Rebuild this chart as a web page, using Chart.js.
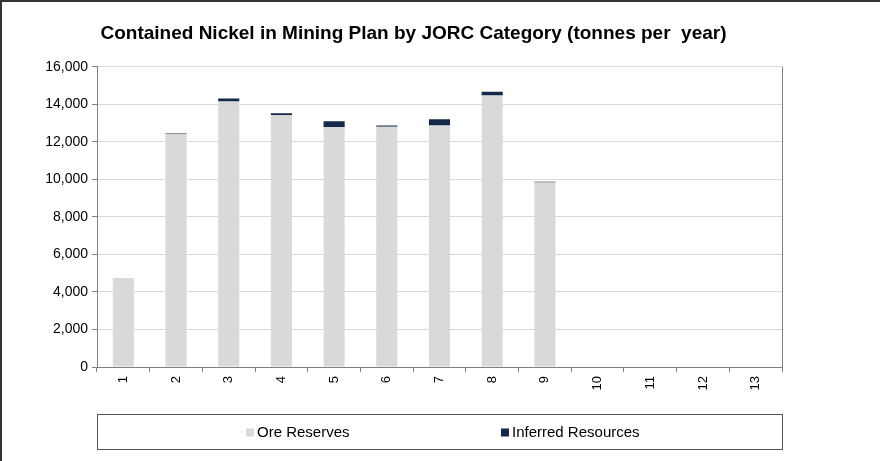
<!DOCTYPE html>
<html>
<head>
<meta charset="utf-8">
<script src="https://cdn.jsdelivr.net/npm/chart.js@4/dist/chart.umd.min.js"></script>
<style>
  html, body { margin: 0; padding: 0; background: #fff; }
</style>
</head>
<body>
<canvas id="nickelChart" width="880" height="461"></canvas>
<script>
// Contained nickel per plan year, split by JORC category
const years = ['1','2','3','4','5','6','7','8','9','10','11','12','13'];
const oreReserves = [4750, 12400, 14150, 13420, 12780, 12800, 12870, 14470, 9830, 0, 0, 0, 0];
const inferredResources = [0, 40, 160, 100, 320, 70, 340, 200, 50, 0, 0, 0, 0];
const yTicks = [0, 2000, 4000, 6000, 8000, 10000, 12000, 14000, 16000];

const FONT = "'Liberation Sans', Arial, sans-serif";
const AXIS_GREY = '#808080';

// outer frame, right edge of the plot and the boxed legend under it
const frameAndLegend = {
  id: 'frameAndLegend',
  afterDraw(chart) {
    const { ctx, chartArea: a } = chart;
    ctx.save();
    ctx.fillStyle = '#333';
    ctx.fillRect(0, 0, chart.width, 2);
    ctx.fillRect(0, 0, 2, chart.height);

    ctx.strokeStyle = AXIS_GREY;
    ctx.lineWidth = 1;
    ctx.beginPath();
    ctx.moveTo(a.right + 0.5, a.top);
    ctx.lineTo(a.right + 0.5, a.bottom);
    ctx.stroke();

    const box = { left: 97, top: 414, right: 782, bottom: 449 };
    ctx.strokeStyle = '#555';
    ctx.strokeRect(box.left + 0.5, box.top + 0.5, box.right - box.left, box.bottom - box.top);

    const mid = (box.top + box.bottom) / 2 + 1;
    ctx.font = '15px ' + FONT;
    ctx.textBaseline = 'middle';
    const items = [
      { x: 246, ds: chart.data.datasets[0] },
      { x: 501, ds: chart.data.datasets[1] }
    ];
    items.forEach(it => {
      ctx.fillStyle = it.ds.backgroundColor;
      ctx.fillRect(it.x, mid - 4, 8, 8);
      ctx.fillStyle = '#000';
      ctx.fillText(it.ds.label, it.x + 11, mid);
    });
    ctx.restore();
  }
};

new Chart(document.getElementById('nickelChart'), {
  type: 'bar',
  data: {
    labels: years,
    datasets: [
      { label: 'Ore Reserves', data: oreReserves, backgroundColor: '#d9d9d9',
        barPercentage: 0.4, categoryPercentage: 1 },
      { label: 'Inferred Resources', data: inferredResources, backgroundColor: '#13284a',
        barPercentage: 0.4, categoryPercentage: 1 }
    ]
  },
  options: {
    responsive: false,
    animation: false,
    devicePixelRatio: 1,
    layout: { padding: { left: 45, right: 98, top: 0, bottom: 48 } },
    plugins: {
      legend: { display: false },
      tooltip: { enabled: false },
      title: {
        display: true,
        text: 'Contained Nickel in Mining Plan by JORC Category (tonnes per  year)',
        color: '#000',
        font: { family: FONT, size: 19, weight: 'bold' },
        padding: { top: 22, bottom: 22 }
      }
    },
    scales: {
      x: {
        stacked: true,
        border: { color: AXIS_GREY, width: 1 },
        grid: { drawOnChartArea: false, tickLength: 5, tickColor: AXIS_GREY, offset: true },
        ticks: { color: '#000', autoSkip: false, minRotation: 90, maxRotation: 90, padding: 4,
                 font: { family: FONT, size: 13 } },
        afterFit(s) { s.height = 46; }
      },
      y: {
        stacked: true,
        min: 0,
        max: 16000,
        border: { color: AXIS_GREY, width: 1 },
        grid: { color: '#d9d9d9', tickLength: 5, tickColor: AXIS_GREY },
        afterBuildTicks(s) { s.ticks = yTicks.map(v => ({ value: v })); },
        ticks: { color: '#000', padding: 4, font: { family: FONT, size: 14 },
                 callback: v => v.toLocaleString('en-US') },
        afterFit(s) { s.width = 52; }
      }
    }
  },
  plugins: [frameAndLegend]
});
</script>
</body>
</html>
